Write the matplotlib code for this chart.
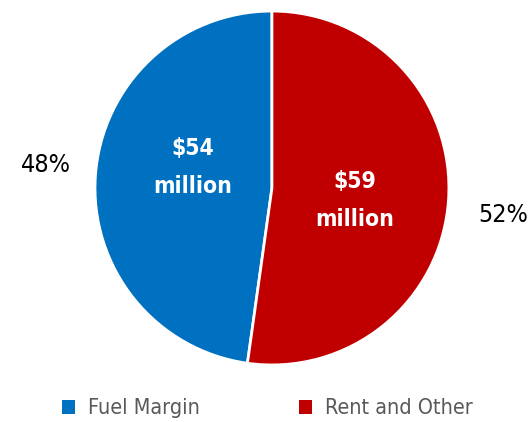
import matplotlib.pyplot as plt
from matplotlib.patches import Patch

labels = ["Fuel Margin", "Rent and Other"]
values = [54, 59]
pcts = ["48%", "52%"]
inner = ["$54\nmillion", "$59\nmillion"]
colors = ["#0070C0", "#C00000"]

plt.rcParams['font.family'] = ['DejaVu Sans']

fig = plt.figure(figsize=(5.29, 4.22), dpi=100)
ax = fig.add_axes([0.1796, 0.135, 0.669, 0.839])

wedges, _ = ax.pie(values, colors=colors, startangle=90, radius=1.0,
                   wedgeprops=dict(edgecolor="white", linewidth=2))
ax.set_xlim(-1, 1)
ax.set_ylim(-1, 1)
ax.set_aspect("equal")

# label spots (data units, pie radius = 1)
inner_xy = [(-0.446, 0.115), (0.469, -0.07)]
outer_xy = [(-1.28, 0.13), (1.305, -0.153)]
for i in range(2):
    ax.text(*inner_xy[i], inner[i].replace("$", r"\$"), color="white", fontsize=16.5,
            fontweight="bold", fontstretch="condensed", ha="center", va="center",
            linespacing=1.8)
    ax.text(*outer_xy[i], pcts[i], color="black", fontsize=18,
            fontstretch="condensed", ha="center", va="center", clip_on=False)

handles = [Patch(facecolor=c) for c in colors]
leg = fig.legend(handles, labels, loc="center", bbox_to_anchor=(0.505, 0.032), ncol=2,
                 frameon=False, fontsize=15.5, handlelength=0.6, handleheight=0.6,
                 handletextpad=0.6, columnspacing=4.6)
for t in leg.get_texts():
    t.set_color("#595959")
    t.set_fontstretch("condensed")

fig.savefig("out.png", dpi=100)
